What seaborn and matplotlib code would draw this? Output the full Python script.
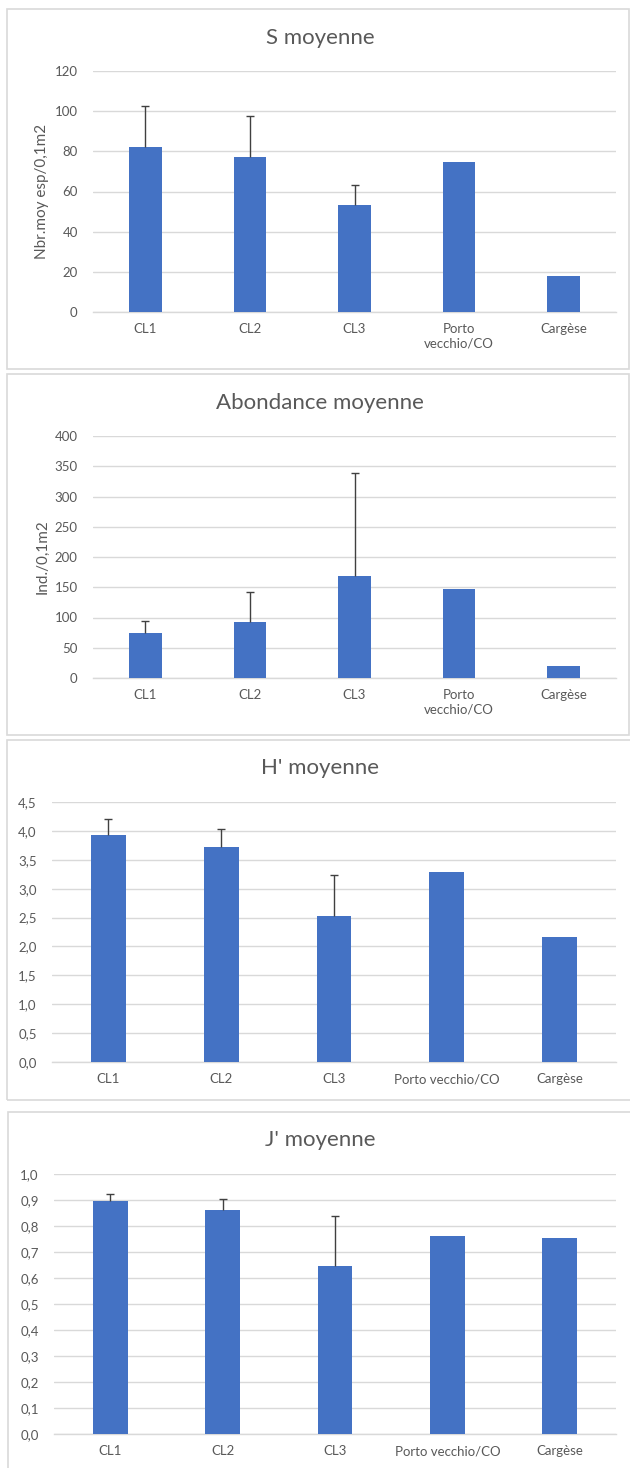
import matplotlib
matplotlib.use("Agg")
import matplotlib.pyplot as plt
from matplotlib.patches import Rectangle
import seaborn as sns
import numpy as np
import pandas as pd

# ---------------- data ----------------
cats_two_line = ["CL1", "CL2", "CL3", "Porto\nvecchio/CO", "Cargèse"]
cats_one_line = ["CL1", "CL2", "CL3", "Porto vecchio/CO", "Cargèse"]

s_mean = [82.4, 77.4, 53.2, 74.9, 18.1]
s_err = [20.4, 20.4, 9.8, 0, 0]

ab_mean = [73.8, 92.0, 168.0, 147.1, 19.8]
ab_err = [19.9, 49.6, 170.8, 0, 0]

h_mean = [3.935, 3.716, 2.533, 3.295, 2.17]
h_err = [0.275, 0.314, 0.697, 0, 0]

j_mean = [0.897, 0.863, 0.645, 0.763, 0.754]
j_err = [0.027, 0.041, 0.195, 0, 0]

titles = ["S moyenne", "Abondance moyenne", "H' moyenne", "J' moyenne"]
ylabels = ["Nbr.moy esp/0,1m2", "Ind./0,1m2", "", ""]
yticks_list = [
    [0, 20, 40, 60, 80, 100, 120],
    [0, 50, 100, 150, 200, 250, 300, 350, 400],
    [0.0, 0.5, 1.0, 1.5, 2.0, 2.5, 3.0, 3.5, 4.0, 4.5],
    [0.0, 0.1, 0.2, 0.3, 0.4, 0.5, 0.6, 0.7, 0.8, 0.9, 1.0],
]
ytick_fmt = ["{:.0f}", "{:.0f}", "{:.1f}", "{:.1f}"]

# ---------------- style ----------------
sns.set_theme(style="white")
plt.rcParams["font.family"] = ["Lato", "DejaVu Sans"]

BAR = "#4472C4"
GRID = "#D9D9D9"
TXT = "#595959"
ERR = "#404040"

W, H = 630, 1468
fig = plt.figure(figsize=(W / 100, H / 100), dpi=100)
fig.patch.set_facecolor("white")


def fx(x):
    return x / W


def fy(y):
    return 1 - y / H


# panel boxes (px: left, top, right, bottom)
boxes = [(7, 9, 629, 369), (7, 374, 629, 735), (7, 740, 632, 1100), (8, 1112, 632, 1472)]
# axes areas (px: left, top, right, bottom)
areas = [(93, 71, 616, 312), (93, 436, 616, 678), (52, 802, 616, 1062), (54, 1174, 616, 1434)]
title_y = [38, 403, 768, 1140]

panels = [
    (cats_two_line, s_mean, s_err),
    (cats_two_line, ab_mean, ab_err),
    (cats_one_line, h_mean, h_err),
    (cats_one_line, j_mean, j_err),
]

for i, ((cats, means, errs), box, area) in enumerate(zip(panels, boxes, areas)):
    l, t, r, b = box
    fig.add_artist(Rectangle((fx(l), fy(b)), fx(r) - fx(l), fy(t) - fy(b),
                             transform=fig.transFigure, fill=False,
                             edgecolor=GRID, linewidth=1.2))
    al, at, ar, ab_ = area
    ax = fig.add_axes([fx(al), fy(ab_), fx(ar) - fx(al), fy(at) - fy(ab_)])
    df = pd.DataFrame({"cat": cats, "val": means})
    sns.barplot(data=df, x="cat", y="val", color=BAR, width=0.31,
                errorbar=None, ax=ax, zorder=3, linewidth=0, saturation=1)
    xs = np.arange(len(cats))
    e = np.array(errs)
    m = np.array(means)
    mask = e > 0
    cont = ax.errorbar(xs[mask], m[mask], yerr=[np.zeros(mask.sum()), e[mask]],
                       fmt="none", ecolor=ERR, elinewidth=1.0, capsize=2.8,
                       capthick=1.0, zorder=4)
    caps = cont[1]
    if len(caps) == 2:
        caps[0].set_visible(False)
    ticks = yticks_list[i]
    ax.set_ylim(ticks[0], ticks[-1])
    ax.set_xlim(-0.5, len(cats) - 0.5)
    ax.set_yticks(ticks)
    ax.set_yticklabels([ytick_fmt[i].format(v).replace(".", ",") for v in ticks])
    ax.yaxis.grid(True, color=GRID, linewidth=1.0, zorder=0)
    ax.set_axisbelow(True)
    for sp in ["top", "right", "left"]:
        ax.spines[sp].set_visible(False)
    ax.spines["bottom"].set_color(GRID)
    ax.spines["bottom"].set_linewidth(1.0)
    ax.tick_params(axis="y", length=0, pad=11, labelsize=9.5, labelcolor=TXT)
    ax.tick_params(axis="x", length=0, pad=8, labelsize=9.5, labelcolor=TXT)
    ax.set_xlabel("")
    if ylabels[i]:
        ax.set_ylabel(ylabels[i], fontsize=11, color=TXT, labelpad=4)
    else:
        ax.set_ylabel("")
    ax.set_facecolor("none")
    fig.text(fx(320), fy(title_y[i]), titles[i], ha="center", va="center",
             fontsize=16, color=TXT)

fig.savefig("out.png", dpi=100, facecolor="white")
